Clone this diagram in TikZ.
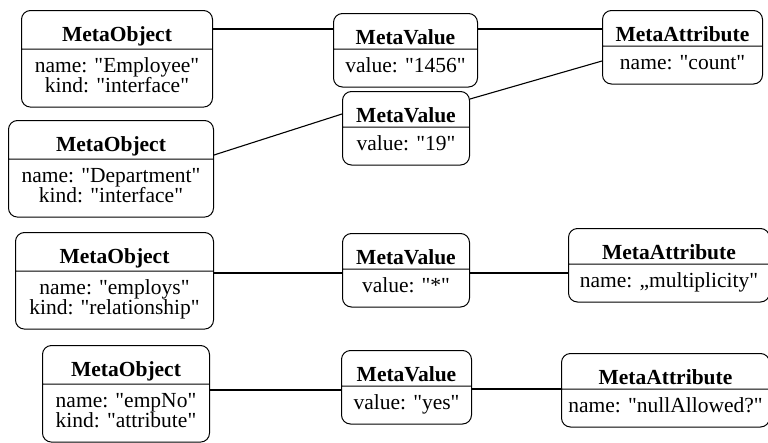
\documentclass[tikz,border=0pt]{standalone}
\usepackage{fontspec}
\setmainfont{Liberation Serif}[Ligatures=TeXOff]
\usepackage{tikz}
\usetikzlibrary{shapes.multipart}
\frenchspacing

% title and body of a class box, with struts for the padding
\newcommand{\mhead}[1]{\rule[-1.5pt]{0pt}{28.5pt}\textbf{#1}}
\newcommand{\mbody}[1]{\rule{0pt}{20pt}#1\rule[-11pt]{0pt}{11pt}}

\begin{document}
\begin{tikzpicture}[
      x=1pt, y=-1pt,
      font=\fontsize{21.5}{20}\selectfont,
      meta/.style={rectangle split, rectangle split parts=2, draw,
                   line width=1pt, rounded corners=9pt, anchor=north west,
                   inner xsep=0pt, inner ysep=3pt, align=center,
                   text width=#1},
      link/.style={line width=1.1pt},
    ]
    \useasboundingbox (0,0) rectangle (768,442);

    % count: Employee / Department
    \node[meta=191pt] (emp)  at (21,10)  {\mhead{MetaObject}\nodepart{two}\mbody{name: "Employee"\\kind: "interface"}};
    \node[meta=205pt] (dept) at (8,120)  {\mhead{MetaObject}\nodepart{two}\mbody{name: "Department"\\kind: "interface"}};
    \node[meta=144pt] (val1) at (333,13) {\mhead{MetaValue}\nodepart{two}\mbody{value: "1456"}};
    \node[meta=127pt] (val2) at (342,91) {\mhead{MetaValue}\nodepart{two}\mbody{value: "19"}};
    \node[meta=160pt] (cnt)  at (602,10) {\mhead{MetaAttribute}\nodepart{two}\mbody{name: "count"}};

    % multiplicity: employs
    \node[meta=198pt] (rel)  at (15,232)  {\mhead{MetaObject}\nodepart{two}\mbody{name: "employs"\\kind: "relationship"}};
    \node[meta=127pt] (val3) at (342,233) {\mhead{MetaValue}\nodepart{two}\mbody{value: "*"}};
    \node[meta=201pt] (mult) at (568,228) {\mhead{MetaAttribute}\nodepart{two}\mbody{name: „multiplicity"}};

    % nullAllowed?: empNo
    \node[meta=167pt] (att)  at (42,345)  {\mhead{MetaObject}\nodepart{two}\mbody{name: "empNo"\\kind: "attribute"}};
    \node[meta=130pt] (val4) at (341,350) {\mhead{MetaValue}\nodepart{two}\mbody{value: "yes"}};
    \node[meta=208pt] (null) at (561,353) {\mhead{MetaAttribute}\nodepart{two}\mbody{name: "nullAllowed?"}};

    % links
    \draw[link] ([yshift=-19pt]emp.north east)  -- ([yshift=-16pt]val1.north west);
    \draw[link] ([yshift=-16pt]val1.north east) -- ([yshift=-19pt]cnt.north west);
    \draw[link] ([yshift=-35pt]dept.north east) -- ([yshift=-23pt]val2.north west);
    \draw[link] ([yshift=-8pt]val2.north east)  -- ([yshift=-51pt]cnt.north west);
    \draw[link] ([yshift=-41pt]rel.north east)  -- ([yshift=-40pt]val3.north west);
    \draw[link] ([yshift=-40pt]val3.north east) -- ([yshift=-45pt]mult.north west);
    \draw[link] ([yshift=-45pt]att.north east)  -- ([yshift=-40pt]val4.north west);
    \draw[link] ([yshift=-39pt]val4.north east) -- ([yshift=-36pt]null.north west);
  \end{tikzpicture}
\end{document}
